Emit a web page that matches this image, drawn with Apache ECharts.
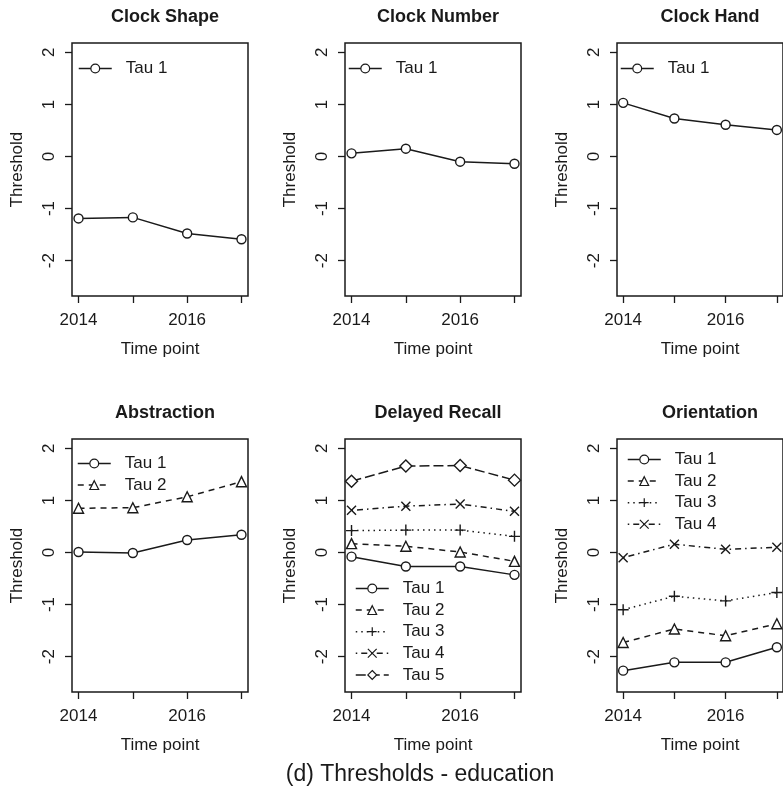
<!DOCTYPE html>
<html>
<head>
<meta charset="utf-8">
<script src="https://cdn.jsdelivr.net/npm/echarts@6/dist/echarts.min.js"></script>
<style>
  html, body { margin: 0; padding: 0; background: #fff; }
  #main { width: 783px; height: 790px; }
</style>
</head>
<body>
<div id="main"></div>
<script>
var chartDom = document.getElementById('main');
var myChart = echarts.init(chartDom, null, { renderer: 'canvas' });

const years = [2014, 2015, 2016, 2017];
const tauNames = ['Tau 1', 'Tau 2', 'Tau 3', 'Tau 4', 'Tau 5'];

// thresholds per panel, one array per tau
const clockShape = [[-1.19, -1.17, -1.48, -1.59]];
const clockNumber = [[0.06, 0.15, -0.10, -0.14]];
const clockHand = [[1.03, 0.73, 0.61, 0.51]];
const abstraction = [
    [0.01, -0.01, 0.24, 0.34],
    [0.85, 0.86, 1.07, 1.36]
];
const delayedRecall = [
    [-0.08, -0.27, -0.27, -0.43],
    [0.17, 0.12, 0.01, -0.17],
    [0.42, 0.43, 0.43, 0.31],
    [0.81, 0.89, 0.93, 0.79],
    [1.37, 1.66, 1.67, 1.39]
];
const orientation = [
    [-2.27, -2.11, -2.11, -1.82],
    [-1.73, -1.47, -1.60, -1.37],
    [-1.10, -0.84, -0.93, -0.77],
    [-0.10, 0.16, 0.06, 0.10]
];

const panelTitles = ['Clock Shape', 'Clock Number', 'Clock Hand', 'Abstraction', 'Delayed Recall', 'Orientation'];
const panelData = [clockShape, clockNumber, clockHand, abstraction, delayedRecall, orientation];

const FONT = '"Liberation Sans", Arial, sans-serif';
const INK = '#1a1a1a';

// line type + marker for each tau (R lty 1..5, pch 1..5)
const tauStyle = [
    { dash: 'solid', symbol: 'circle', size: 9 },
    { dash: [6, 5], symbol: 'triangle', size: 10 },
    { dash: [1.5, 4], symbol: 'path://M5,0L5,10M0,5L10,5', size: 11 },
    { dash: [1.5, 4, 6, 4], symbol: 'path://M0,0L10,10M0,10L10,0', size: 9 },
    { dash: [10, 4], symbol: 'diamond', size: 12 }
];

const colLeft = [72, 345, 617];
const rowTop = [43, 439];
const boxW = 176;
const boxH = 253;

const legendPos = [
    { left: 78, top: 60 },
    { left: 348, top: 60 },
    { left: 620, top: 60 },
    { left: 77, top: 455 },
    { left: 355, top: 580 },
    { left: 627, top: 451 }
];

const grids = [], xAxes = [], yAxes = [], series = [], titles = [], legends = [];

panelData.forEach(function (taus, p) {
    const left = colLeft[p % 3];
    const top = rowTop[Math.floor(p / 3)];
    grids.push({
        left: left, top: top, width: boxW, height: boxH,
        show: true, borderColor: INK, borderWidth: 1.5, backgroundColor: 'transparent'
    });
    xAxes.push({
        gridIndex: p, type: 'value', min: 2013.88, max: 2017.12,
        name: 'Time point', nameLocation: 'middle', nameGap: 45,
        nameTextStyle: { fontFamily: FONT, fontSize: 17, color: INK },
        axisLine: { show: false, onZero: false },
        splitLine: { show: false },
        axisTick: { show: true, length: 7, lineStyle: { color: INK, width: 1.3 }, customValues: years },
        axisLabel: {
            customValues: [2014, 2016], margin: 16,
            fontFamily: FONT, fontSize: 17, color: INK,
            formatter: function (v) { return String(v); }
        }
    });
    yAxes.push({
        gridIndex: p, type: 'value', min: -2.68, max: 2.18,
        name: 'Threshold', nameLocation: 'middle', nameGap: 46, nameRotate: 90,
        nameTextStyle: { fontFamily: FONT, fontSize: 17, color: INK },
        axisLine: { show: false, onZero: false },
        splitLine: { show: false },
        axisTick: { show: true, length: 7, lineStyle: { color: INK, width: 1.3 }, customValues: [-2, -1, 0, 1, 2] },
        axisLabel: {
            customValues: [-2, -1, 0, 1, 2], rotate: 90, margin: 14,
            fontFamily: FONT, fontSize: 17, color: INK
        }
    });
    titles.push({
        text: panelTitles[p], left: left + boxW / 2, top: top - 40, textAlign: 'center',
        textStyle: { fontFamily: FONT, fontSize: 18, fontWeight: 'bold', color: INK }
    });
    const names = [];
    taus.forEach(function (vals, t) {
        const st = tauStyle[t];
        names.push(tauNames[t]);
        series.push({
            type: 'line', name: tauNames[t], xAxisIndex: p, yAxisIndex: p,
            data: years.map(function (y, i) { return [y, vals[i]]; }),
            symbol: st.symbol, symbolSize: st.size, showAllSymbol: true,
            lineStyle: { color: INK, width: 1.5, type: st.dash },
            itemStyle: { color: '#fff', borderColor: INK, borderWidth: 1.4 },
            emphasis: { disabled: true },
            animation: false, z: 3 + t
        });
    });
    legends.push({
        left: legendPos[p].left, top: legendPos[p].top, orient: 'vertical',
        padding: 0, itemWidth: 33, itemHeight: 11, itemGap: 4.6,
        selectedMode: false, data: names,
        lineStyle: { width: 1.5 },
        itemStyle: { borderWidth: 1.2 },
        textStyle: { fontFamily: FONT, fontSize: 17, color: INK, lineHeight: 17, padding: [0, 0, 0, 9] }
    });
});

titles.push({
    text: '(d) Thresholds - education', left: 415, top: 758, textAlign: 'center',
    textStyle: { fontFamily: FONT, fontSize: 23, fontWeight: 'normal', color: INK }
});

var option = {
    backgroundColor: '#fff',
    animation: false,
    title: titles,
    legend: legends,
    grid: grids,
    xAxis: xAxes,
    yAxis: yAxes,
    series: series
};
option && myChart.setOption(option);
</script>
</body>
</html>
